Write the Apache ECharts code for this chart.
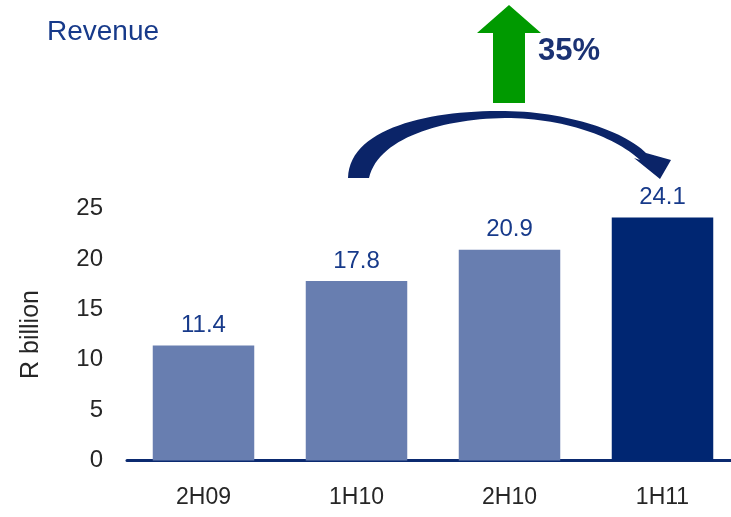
<!DOCTYPE html>
<html>
<head>
<meta charset="utf-8">
<style>
  html, body { margin: 0; padding: 0; background: #ffffff; }
  #chart { width: 731px; height: 517px; }
</style>
<script src="https://cdn.jsdelivr.net/npm/echarts@6/dist/echarts.min.js"></script>
</head>
<body>
<div id="chart"></div>
<script>
// Half-year revenue, R billion
const periods = ['2H09', '1H10', '2H10', '1H11'];
const revenue = [11.4, 17.8, 20.9, 24.1];
const yTicks = [0, 5, 10, 15, 20, 25];
const growthLabel = '35%';

const FONT = '"Liberation Sans", Arial, sans-serif';
const BAR_LIGHT = '#687eb0';
const BAR_DARK = '#002672';
const NAVY = '#0b2468';
const TEXT_BLUE = '#173a8a';

// sample a cubic bezier into a list of points
function cubic(p0, p1, p2, p3, n) {
  const pts = [];
  for (let i = 0; i <= n; i++) {
    const t = i / n, u = 1 - t;
    pts.push([
      u * u * u * p0[0] + 3 * u * u * t * p1[0] + 3 * u * t * t * p2[0] + t * t * t * p3[0],
      u * u * u * p0[1] + 3 * u * u * t * p1[1] + 3 * u * t * t * p2[1] + t * t * t * p3[1]
    ]);
  }
  return pts;
}

// outline of the curved arrow: outer edge, head, inner edge back
const arcOutline = []
  .concat(cubic([348, 178], [349, 128], [430, 110], [505, 111], 30))
  .concat(cubic([505, 111], [570, 112], [625, 132], [646, 153], 30))
  .concat([[671, 160], [660, 179], [634, 158], [640, 160]])
  .concat(cubic([640, 160], [615, 137], [565, 118], [505, 118], 30))
  .concat(cubic([505, 118], [442, 119], [378, 138], [369, 178], 30));

const chart = echarts.init(document.getElementById('chart'));

chart.setOption({
  animation: false,
  backgroundColor: '#ffffff',
  textStyle: { fontFamily: FONT },
  grid: {
    left: 127, top: 208.5, width: 612, height: 252,
    containLabel: false,
    outerBoundsMode: 'none'
  },
  xAxis: {
    type: 'category',
    data: periods,
    axisLine: { show: true, lineStyle: { color: '#0b2a70', width: 3 } },
    axisTick: { show: false },
    axisLabel: { color: '#262626', fontSize: 23, fontFamily: FONT, margin: 26 }
  },
  yAxis: {
    type: 'value',
    min: yTicks[0],
    max: yTicks[yTicks.length - 1],
    interval: yTicks[1] - yTicks[0],
    name: 'R billion',
    nameLocation: 'middle',
    nameGap: 83,
    nameRotate: 90,
    nameTextStyle: { color: '#262626', fontSize: 25, fontFamily: FONT },
    axisLine: { show: false },
    axisTick: { show: false },
    splitLine: { show: false },
    axisLabel: { color: '#262626', fontSize: 24, fontFamily: FONT, margin: 24 }
  },
  series: [{
    type: 'bar',
    barWidth: 101.5,
    data: revenue.map((v, i) => ({
      value: v,
      itemStyle: { color: i === revenue.length - 1 ? BAR_DARK : BAR_LIGHT }
    })),
    label: {
      show: true,
      position: 'top',
      distance: 8,
      color: TEXT_BLUE,
      fontSize: 24,
      fontFamily: FONT,
      formatter: p => p.value.toFixed(1)
    }
  }],
  graphic: [
    {
      type: 'text',
      x: 47,
      y: 18,
      style: { text: 'Revenue', fill: TEXT_BLUE, fontSize: 28, fontFamily: FONT }
    },
    {
      // green growth arrow
      type: 'polygon',
      shape: {
        points: [[477, 33], [509, 5], [541, 33], [525, 33], [525, 103], [493, 103], [493, 33]]
      },
      style: { fill: '#009a00' }
    },
    {
      type: 'text',
      x: 538,
      y: 36,
      style: { text: growthLabel, fill: '#1b3273', fontSize: 31, fontWeight: 'bold', fontFamily: FONT }
    },
    {
      // curved arrow from 1H10 over to 1H11
      type: 'polygon',
      shape: { points: arcOutline },
      style: { fill: NAVY }
    }
  ]
});
</script>
</body>
</html>
